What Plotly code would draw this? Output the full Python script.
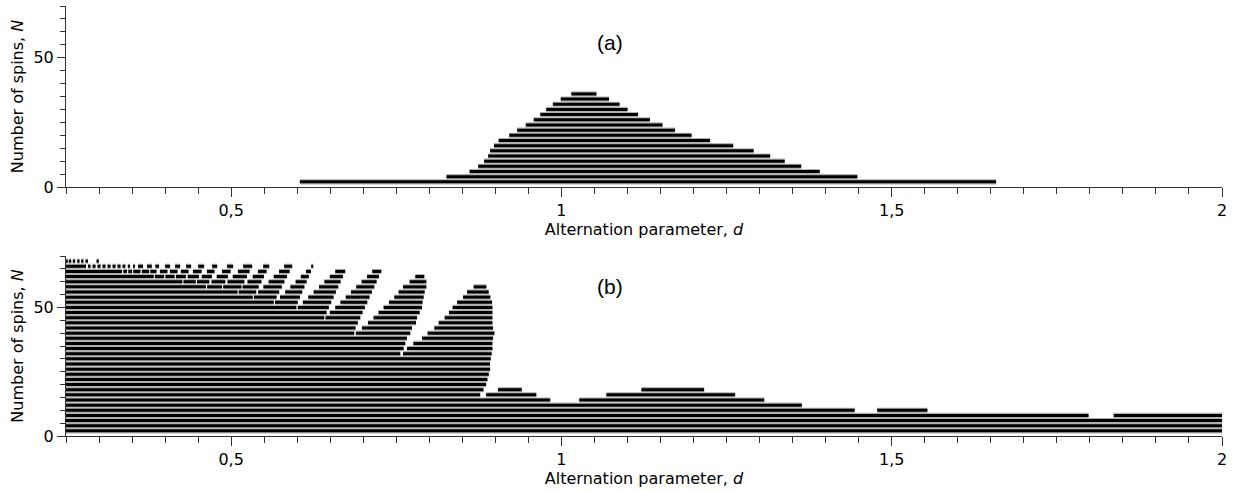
import plotly.graph_objects as go
import numpy as np

# ---------------- panel (a): one interval of d per even N ----------------
a_N = [2, 4, 6, 8, 10, 12, 14, 16, 18, 20, 22, 24, 26, 28, 30, 32, 34, 36]
a_start = [0.604, 0.826, 0.861, 0.874, 0.883, 0.889, 0.892, 0.898, 0.905, 0.921,
           0.933, 0.946, 0.958, 0.968, 0.977, 0.987, 0.999, 1.015]
a_end = [1.658, 1.448, 1.391, 1.363, 1.338, 1.316, 1.291, 1.260, 1.225, 1.197,
         1.172, 1.153, 1.134, 1.116, 1.100, 1.088, 1.072, 1.053]

# ---------------- panel (b): list of d-intervals for every even N ----------------
b_N = [2, 4, 6, 8, 10, 12, 14, 16, 18, 20, 22, 24, 26, 28, 30, 32, 34, 36, 38, 40,
       42, 44, 46, 48, 50, 52, 54, 56, 58, 60, 62, 64, 66, 68]
b_start = [
    [0.25], [0.25], [0.25],
    [0.25, 1.836],
    [0.25, 1.478],
    [0.25],
    [0.25, 1.027],
    [0.25, 0.886, 1.068],
    [0.25, 0.904, 1.121],
    [0.25], [0.25], [0.25], [0.25], [0.25], [0.25],
    [0.25, 0.7602],
    [0.25, 0.7662],
    [0.25, 0.7758],
    [0.25, 0.7889],
    [0.25, 0.6888, 0.7974],
    [0.25, 0.6980, 0.8076],
    [0.25, 0.7071, 0.8141],
    [0.25, 0.6429, 0.7156, 0.8232],
    [0.25, 0.6494, 0.7232, 0.8298],
    [0.25, 0.6009, 0.6576, 0.7308, 0.8353],
    [0.25, 0.5664, 0.6085, 0.6655, 0.7389, 0.8420],
    [0.25, 0.5344, 0.5739, 0.6167, 0.6735, 0.7470, 0.8511],
    [0.25, 0.5115, 0.5409, 0.5818, 0.6249, 0.6815, 0.7535, 0.8571],
    [0.25, 0.4636, 0.4879, 0.5174, 0.5488, 0.5897, 0.6330, 0.6894, 0.7602, 0.8671],
    [0.25, 0.4279, 0.4483, 0.4703, 0.4945, 0.5248, 0.5567, 0.5976, 0.6412, 0.6976, 0.7702],
    [0.25, 0.3845, 0.4005, 0.4164, 0.4342, 0.4555, 0.4782, 0.5024, 0.5327, 0.5645,
     0.6055, 0.6494, 0.7056, 0.7788],
    [0.25, 0.3367, 0.3442, 0.3518, 0.3648, 0.3776, 0.3921, 0.4073, 0.4239, 0.4421,
     0.4633, 0.4861, 0.5103, 0.5406, 0.5724, 0.6133, 0.6576, 0.7136],
    [0.25, 0.2833, 0.2902, 0.2977, 0.3053, 0.3129, 0.3205, 0.3280, 0.3356, 0.3436,
     0.3515, 0.3591, 0.3727, 0.3852, 0.4000, 0.4152, 0.4318, 0.4500, 0.4712, 0.4939,
     0.5182, 0.5485, 0.5803, 0.6212],
    [0.2500, 0.2542, 0.2603, 0.2668, 0.2729, 0.2795, 0.2962],
]
b_end = [
    [2.0], [2.0], [2.0],
    [1.798, 2.0],
    [1.444, 1.554],
    [1.364],
    [0.983, 1.307],
    [0.877, 0.962, 1.263],
    [0.882, 0.940, 1.216],
    [0.886], [0.888], [0.890], [0.892], [0.892], [0.893],
    [0.7561, 0.8944],
    [0.7611, 0.8955],
    [0.7636, 0.8955],
    [0.7662, 0.8965],
    [0.6864, 0.7712, 0.8985],
    [0.6883, 0.7738, 0.8965],
    [0.6918, 0.7798, 0.8955],
    [0.6409, 0.6955, 0.7814, 0.8955],
    [0.6444, 0.6989, 0.7853, 0.8955],
    [0.5988, 0.6479, 0.7024, 0.7889, 0.8955],
    [0.5645, 0.6009, 0.6515, 0.7061, 0.7898, 0.8950],
    [0.5326, 0.5688, 0.6042, 0.6550, 0.7095, 0.7914, 0.8924],
    [0.5097, 0.5379, 0.5727, 0.6076, 0.6585, 0.7130, 0.7929, 0.8898],
    [0.4618, 0.4861, 0.5156, 0.5418, 0.5767, 0.6109, 0.6621, 0.7167, 0.7955, 0.8864],
    [0.4261, 0.4465, 0.4670, 0.4912, 0.5200, 0.5458, 0.5806, 0.6142, 0.6656, 0.7202, 0.7955],
    [0.3827, 0.3986, 0.4145, 0.4315, 0.4512, 0.4709, 0.4952, 0.5239, 0.5497, 0.5845,
     0.6176, 0.6692, 0.7238, 0.7924],
    [0.3348, 0.3424, 0.3500, 0.3627, 0.3758, 0.3870, 0.4036, 0.4188, 0.4355, 0.4552,
     0.4748, 0.4991, 0.5279, 0.5536, 0.5885, 0.6209, 0.6727, 0.7273],
    [0.2803, 0.2871, 0.2947, 0.3023, 0.3098, 0.3174, 0.3250, 0.3326, 0.3398, 0.3470,
     0.3545, 0.3667, 0.3799, 0.3909, 0.4076, 0.4227, 0.4394, 0.4591, 0.4788, 0.5030,
     0.5318, 0.5576, 0.5924, 0.6242],
    [0.2527, 0.2579, 0.2639, 0.2705, 0.2765, 0.2832, 0.2998],
]

# tick labels (comma decimal separator)
x_tick_vals = [0.5, 1, 1.5, 2]
x_tick_text = ['0,5', '1', '1,5', '2']
y_tick_vals = [0, 50]
y_tick_text = ['0', '50']


def seg_xy(ns, s, e):
    xs, ys = [], []
    for n, a, b in zip(ns, s, e):
        xs += [a, b, None]
        ys += [n, n, None]
    return xs, ys


# flatten panel (b) rows into segment lists
bN_flat, bs_flat, be_flat = [], [], []
for n, ss, ee in zip(b_N, b_start, b_end):
    for a, b in zip(ss, ee):
        bN_flat.append(n)
        bs_flat.append(a)
        be_flat.append(b)

fig = go.Figure()
for (ns, s, e), xa, ya in [((a_N, a_start, a_end), 'x', 'y'),
                           ((bN_flat, bs_flat, be_flat), 'x2', 'y2')]:
    xs, ys = seg_xy(ns, s, e)
    fig.add_trace(go.Scatter(x=xs, y=ys, mode='lines', xaxis=xa, yaxis=ya,
                             line=dict(color='#b0b0b0', width=5.2),
                             hoverinfo='skip', showlegend=False))
    fig.add_trace(go.Scatter(x=xs, y=ys, mode='lines', xaxis=xa, yaxis=ya,
                             line=dict(color='#000000', width=3),
                             hoverinfo='skip', showlegend=False))

FONT = 'DejaVu Sans'
AX = '#333333'
minor_x = list(np.round(np.arange(0.25, 2.0001, 0.05), 3))
minor_y = list(range(0, 71, 5))


def xaxis_cfg(anchor):
    return dict(range=[0.25, 2.0], anchor=anchor, showline=True, linecolor=AX,
                linewidth=1, ticks='outside', ticklen=9, tickcolor=AX,
                tickvals=x_tick_vals, ticktext=x_tick_text,
                minor=dict(tickvals=minor_x, ticklen=6, ticks='outside', tickcolor=AX),
                showgrid=False, zeroline=False,
                tickfont=dict(family=FONT, size=16, color='#000'),
                title=dict(text='Alternation parameter, <i>d</i>', standoff=3,
                           font=dict(family=FONT, size=16, color='#000')))


def yaxis_cfg(anchor, domain):
    return dict(range=[0, 70], domain=domain, anchor=anchor, showline=True,
                linecolor=AX, linewidth=1, ticks='outside', ticklen=8,
                tickcolor=AX, tickvals=y_tick_vals, ticktext=y_tick_text,
                minor=dict(tickvals=minor_y, ticklen=5, ticks='outside', tickcolor=AX),
                showgrid=False, zeroline=False,
                tickfont=dict(family=FONT, size=16, color='#000'),
                title=dict(text='Number of spins, <i>N</i>', standoff=5,
                           font=dict(family=FONT, size=16, color='#000')))


fig.update_layout(
    width=1234, height=491,
    margin=dict(l=66, r=12, t=6, b=55),
    paper_bgcolor='white', plot_bgcolor='white',
    xaxis=xaxis_cfg('y'),
    yaxis=yaxis_cfg('x', [0.579, 1.0]),
    xaxis2=xaxis_cfg('y2'),
    yaxis2=yaxis_cfg('x2', [0.0, 0.4186]),
    annotations=[
        dict(text='(a)', x=0.4706, y=0.916, xref='paper', yref='paper', showarrow=False,
             xanchor='center', yanchor='middle',
             font=dict(family='Liberation Sans', size=21, color='#000')),
        dict(text='(b)', x=0.4706, y=0.3472, xref='paper', yref='paper', showarrow=False,
             xanchor='center', yanchor='middle',
             font=dict(family='Liberation Sans', size=21, color='#000')),
    ],
)

fig.write_html('out.html')
